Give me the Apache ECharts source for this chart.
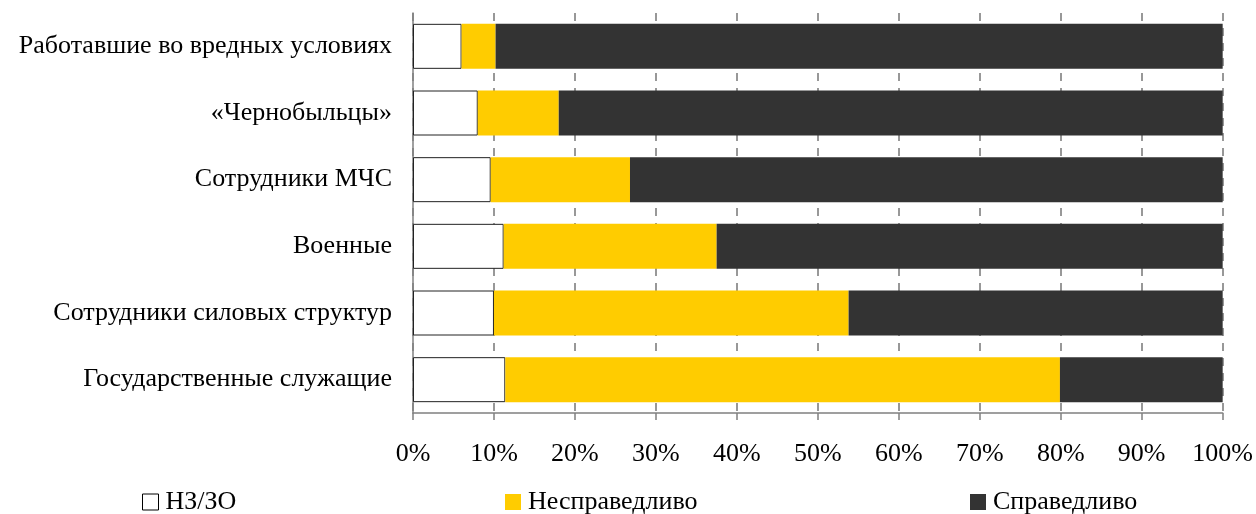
<!DOCTYPE html>
<html><head><meta charset="utf-8">
<script src="https://cdn.jsdelivr.net/npm/echarts@6/dist/echarts.min.js"></script>
<style>html,body{margin:0;padding:0;background:#fff}#c{width:1256px;height:514px}</style>
</head><body><div id="c"></div>
<script>
const categories = ["Работавшие во вредных условиях","«Чернобыльцы»","Сотрудники МЧС","Военные","Сотрудники силовых структур","Государственные служащие"];
const nzzo = [6.0, 8.0, 9.6, 11.2, 10.0, 11.4];
const unfair = [4.2, 10.0, 17.2, 26.3, 43.8, 68.5];
const fair = [89.8, 82.0, 73.2, 62.5, 46.2, 20.1];
const xTicks = [0,10,20,30,40,50,60,70,80,90,100];
const F = '"Liberation Serif", "DejaVu Serif", serif';
const FS = 26;
const chart = echarts.init(document.getElementById('c'));
const legText = {fontFamily:F,fontSize:FS,color:'#000',padding:[0,0,0,2]};
const legBase = {top:489,padding:0,itemWidth:16,itemHeight:16,icon:'rect',textStyle:legText};
chart.setOption({
  animation:false,
  grid:{left:413,right:33,top:13,bottom:101,containLabel:false},
  xAxis:{type:'value',min:0,max:100,interval:10,
    axisLine:{show:true,lineStyle:{color:'#808080',width:1.5}},
    axisTick:{show:true,length:7,lineStyle:{color:'#808080',width:1.5}},
    axisLabel:{formatter:'{value}%',color:'#000',fontFamily:F,fontSize:FS,margin:28},
    splitLine:{show:true,lineStyle:{color:'#777',type:[8,7],width:1.5}}},
  yAxis:{type:'category',data:categories,inverse:true,
    axisLine:{show:true,lineStyle:{color:'#808080',width:1.5}},
    axisTick:{show:false},
    axisLabel:{color:'#000',fontFamily:F,fontSize:FS,margin:21}},
  legend:[
    Object.assign({left:142,data:[{name:'НЗ/ЗО',itemStyle:{color:'#fff',borderColor:'#000',borderWidth:1}}]},legBase),
    Object.assign({left:505,data:['Несправедливо']},legBase),
    Object.assign({left:970,data:['Справедливо']},legBase)
  ],
  series:[
    {name:'НЗ/ЗО',type:'bar',stack:'a',data:nzzo,barWidth:45,itemStyle:{color:'#fff',borderColor:'#222',borderWidth:1}},
    {name:'Несправедливо',type:'bar',stack:'a',data:unfair,barWidth:45,itemStyle:{color:'#FFCC00'}},
    {name:'Справедливо',type:'bar',stack:'a',data:fair,barWidth:45,itemStyle:{color:'#333333'}}
  ]
});
</script></body></html>
